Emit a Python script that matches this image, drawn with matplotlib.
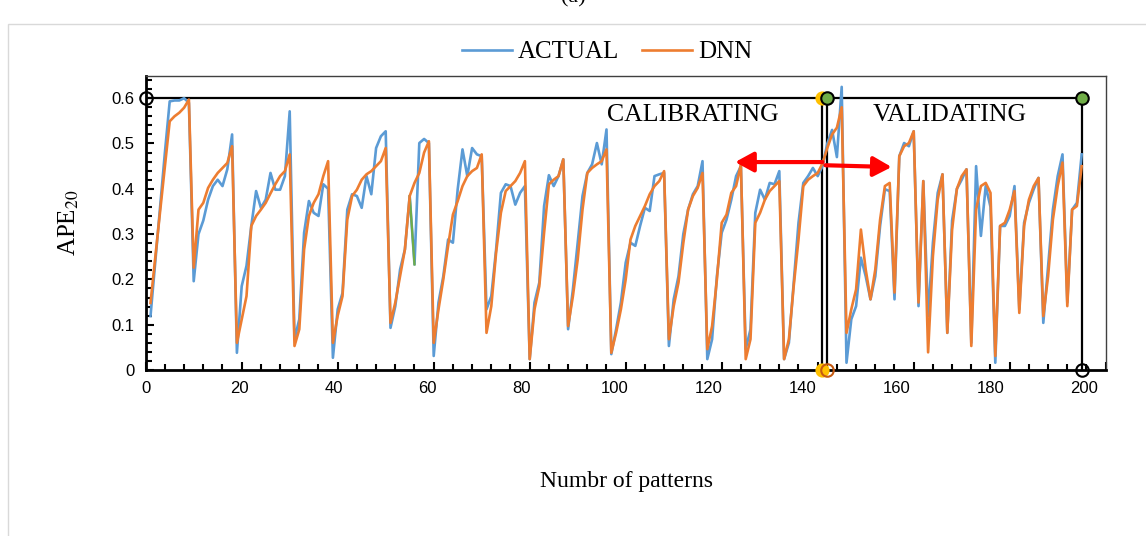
import matplotlib
matplotlib.use("Agg")
import matplotlib.pyplot as plt
from matplotlib.patches import Rectangle
from matplotlib.ticker import MultipleLocator

# ---------------- data ----------------
patterns = list(range(1, 196))

actual = [
    0.119, 0.240, 0.360, 0.480, 0.593, 0.595, 0.595, 0.600, 0.590, 0.196,
    0.300, 0.330, 0.376, 0.406, 0.420, 0.406, 0.443, 0.520, 0.038, 0.185,
    0.230, 0.318, 0.395, 0.358, 0.376, 0.435, 0.398, 0.398, 0.428, 0.571,
    0.068, 0.112, 0.303, 0.373, 0.347, 0.340, 0.410, 0.400, 0.027, 0.134,
    0.170, 0.354, 0.388, 0.384, 0.358, 0.428, 0.388, 0.490, 0.516, 0.527,
    0.093, 0.141, 0.222, 0.266, 0.384, 0.233, 0.501, 0.510, 0.501, 0.031,
    0.149, 0.207, 0.288, 0.281, 0.399, 0.487, 0.428, 0.490, 0.476, 0.472,
    0.134, 0.163, 0.266, 0.391, 0.410, 0.406, 0.365, 0.391, 0.406, 0.024,
    0.149, 0.193, 0.362, 0.430, 0.406, 0.428, 0.465, 0.090, 0.178, 0.281,
    0.384, 0.435, 0.454, 0.501, 0.454, 0.531, 0.035, 0.090, 0.149, 0.237,
    0.281, 0.274, 0.318, 0.358, 0.351, 0.428, 0.432, 0.435, 0.053, 0.156,
    0.207, 0.300, 0.354, 0.388, 0.406, 0.461, 0.024, 0.068, 0.207, 0.303,
    0.332, 0.376, 0.428, 0.450, 0.046, 0.090, 0.347, 0.398, 0.376, 0.413,
    0.410, 0.439, 0.024, 0.060, 0.193, 0.325, 0.413, 0.428, 0.446, 0.428,
    0.450, 0.500, 0.530, 0.470, 0.625, 0.016, 0.112, 0.141, 0.248, 0.207,
    0.156, 0.207, 0.318, 0.399, 0.395, 0.156, 0.472, 0.501, 0.494, 0.527,
    0.141, 0.417, 0.119, 0.281, 0.391, 0.432, 0.082, 0.330, 0.400, 0.420,
    0.443, 0.060, 0.450, 0.296, 0.406, 0.360, 0.016, 0.318, 0.318, 0.340,
    0.406, 0.134, 0.325, 0.369, 0.399, 0.424, 0.104, 0.229, 0.354, 0.428,
    0.476, 0.149, 0.354, 0.369, 0.476,
]

dnn = [
    0.148, 0.250, 0.350, 0.450, 0.549, 0.560, 0.568, 0.579, 0.597, 0.226,
    0.354, 0.369, 0.402, 0.420, 0.435, 0.446, 0.457, 0.494, 0.060, 0.112,
    0.163, 0.318, 0.340, 0.354, 0.369, 0.390, 0.410, 0.428, 0.439, 0.476,
    0.053, 0.090, 0.266, 0.340, 0.369, 0.388, 0.428, 0.461, 0.060, 0.120,
    0.163, 0.332, 0.384, 0.398, 0.420, 0.432, 0.439, 0.450, 0.461, 0.490,
    0.104, 0.149, 0.207, 0.266, 0.384, 0.413, 0.435, 0.480, 0.505, 0.060,
    0.134, 0.200, 0.274, 0.343, 0.373, 0.406, 0.428, 0.439, 0.446, 0.476,
    0.082, 0.141, 0.259, 0.347, 0.395, 0.406, 0.417, 0.435, 0.461, 0.024,
    0.134, 0.185, 0.303, 0.410, 0.420, 0.428, 0.465, 0.097, 0.163, 0.244,
    0.354, 0.435, 0.446, 0.454, 0.461, 0.487, 0.038, 0.082, 0.134, 0.200,
    0.288, 0.318, 0.340, 0.362, 0.388, 0.406, 0.417, 0.439, 0.068, 0.141,
    0.193, 0.280, 0.354, 0.384, 0.402, 0.435, 0.046, 0.097, 0.200, 0.325,
    0.343, 0.391, 0.406, 0.454, 0.024, 0.068, 0.325, 0.347, 0.376, 0.395,
    0.406, 0.417, 0.024, 0.068, 0.185, 0.288, 0.406, 0.420, 0.428, 0.435,
    0.456, 0.490, 0.520, 0.535, 0.580, 0.082, 0.134, 0.178, 0.310, 0.222,
    0.156, 0.222, 0.332, 0.406, 0.413, 0.171, 0.472, 0.494, 0.501, 0.527,
    0.149, 0.417, 0.039, 0.251, 0.376, 0.432, 0.082, 0.310, 0.400, 0.428,
    0.443, 0.053, 0.354, 0.406, 0.413, 0.391, 0.031, 0.318, 0.325, 0.354,
    0.395, 0.126, 0.318, 0.376, 0.406, 0.424, 0.119, 0.207, 0.332, 0.406,
    0.458, 0.141, 0.354, 0.362, 0.450,
]

# short green segment visible between patterns 55 and 56
green_x = [55, 56]
green_y = [0.384, 0.233]

# calibration / validation boxes
calib_x = [0, 141, 141]
calib_y = [0.6, 0.6, 0.0]
valid_x = [142, 142, 195, 195]
valid_y = [0.0, 0.6, 0.6, 0.0]

x_tick_labels_vals = list(range(0, 201, 20))
y_ticks = [0, 0.1, 0.2, 0.3, 0.4, 0.5, 0.6]
y_tick_labels = ["0", "0.1", "0.2", "0.3", "0.4", "0.5", "0.6"]

# ---------------- figure ----------------
plt.rcParams["mathtext.fontset"] = "stix"
SERIF = ["Liberation Serif", "DejaVu Serif"]
SANS = ["Liberation Sans", "DejaVu Sans"]

fig = plt.figure(figsize=(11.46, 5.36), dpi=100)
W, H = 1146, 536

# outer light border
fig.patches.append(Rectangle((8 / W, -0.05), 1.2, 1 - 24 / H + 0.05,
                             transform=fig.transFigure, fill=False,
                             edgecolor="#D9D9D9", linewidth=1.0))
fig.text(573 / W, 1 - 2 / H, "(a)", ha="center", va="baseline",
         fontsize=16, family=SERIF)

left, right, bottom, top = 145.7, 1105.7, 370, 76
ax = fig.add_axes([left / W, (H - bottom) / H, (right - left) / W, (bottom - top) / H])

ax.set_xlim(0, 200)
ax.set_ylim(0, 0.649)

# boxes
ax.plot(calib_x, calib_y, color="black", lw=1.6, zorder=2, solid_capstyle="butt")
ax.plot(valid_x, valid_y, color="black", lw=1.6, zorder=2, solid_capstyle="butt")

# series
ax.plot(patterns, actual, color="#5B9BD5", lw=1.9, zorder=3, label="ACTUAL",
        solid_joinstyle="round")
ax.plot(green_x, green_y, color="#70AD47", lw=1.6, zorder=3.5)
ax.plot(patterns, dnn, color="#ED7D31", lw=1.9, zorder=4, label="DNN",
        solid_joinstyle="round")

# corner markers
ms = 9
ax.plot([0], [0.6], "o", ms=ms, mfc="none", mec="black", mew=1.5, zorder=6, clip_on=False)
ax.plot([141], [0.6], "o", ms=ms, mfc="#FFC000", mec="#FFC000", mew=1.2, zorder=5, clip_on=False)
ax.plot([141], [0.0], "o", ms=ms, mfc="#FFC000", mec="#FFC000", mew=1.2, zorder=5, clip_on=False)
ax.plot([142], [0.0], "o", ms=ms, mfc="none", mec="#C55A11", mew=1.5, zorder=6, clip_on=False)
ax.plot([142], [0.6], "o", ms=ms, mfc="#70AD47", mec="black", mew=1.5, zorder=6, clip_on=False)
ax.plot([195], [0.6], "o", ms=ms, mfc="#70AD47", mec="black", mew=1.5, zorder=6, clip_on=False)
ax.plot([195], [0.0], "o", ms=ms, mfc="none", mec="black", mew=1.5, zorder=6, clip_on=False)

# arrows
astyle = "-|>,head_length=0.55,head_width=0.3"
ax.annotate("", xy=(122.8, 0.459), xytext=(141, 0.459),
            arrowprops=dict(arrowstyle=astyle, color="#FF0000", lw=3,
                            mutation_scale=20, shrinkA=0, shrinkB=0), zorder=7)
ax.annotate("", xy=(155.4, 0.448), xytext=(141.6, 0.452),
            arrowprops=dict(arrowstyle=astyle, color="#FF0000", lw=3,
                            mutation_scale=20, shrinkA=0, shrinkB=0), zorder=7)

# region labels
ax.text(113.9, 0.549, "CALIBRATING", ha="center", va="baseline",
        fontsize=18.5, family=SERIF, zorder=8)
ax.text(167.5, 0.549, "VALIDATING", ha="center", va="baseline",
        fontsize=18.5, family=SERIF, zorder=8)

# primary axis: tick marks only (in pattern units)
ax.xaxis.set_major_locator(MultipleLocator(20))
ax.xaxis.set_minor_locator(MultipleLocator(4))
ax.set_yticks(y_ticks)
ax.set_yticklabels(y_tick_labels)
ax.yaxis.set_minor_locator(MultipleLocator(0.02))
ax.tick_params(which="both", direction="in", color="black", width=1.5)
ax.tick_params(which="major", length=6, labelsize=12, pad=8)
ax.tick_params(which="minor", length=4.5)
ax.tick_params(axis="x", which="both", labelbottom=False)
for lab in ax.get_yticklabels():
    lab.set_family(SANS)

for s in ("left", "bottom"):
    ax.spines[s].set_linewidth(2.0)
    ax.spines[s].set_color("black")
for s in ("top", "right"):
    ax.spines[s].set_linewidth(1.0)
    ax.spines[s].set_color("#404040")

# secondary horizontal axis carrying the 0-200 labels (Excel secondary scale)
axl = ax.twiny()
axl.set_xlim(0, 204.6)
axl.xaxis.set_ticks_position("bottom")
axl.set_xticks(x_tick_labels_vals)
axl.tick_params(axis="x", length=0, labelsize=12, pad=8, labelbottom=True, labeltop=False)
for lab in axl.get_xticklabels():
    lab.set_family(SANS)
for s in axl.spines.values():
    s.set_visible(False)

ax.set_ylabel(r"APE$_{20}$", fontsize=18, family=SERIF, labelpad=22)
fig.text(627 / W, 1 - 482 / H, "Numbr of patterns", ha="center", va="center",
         fontsize=17, family=SERIF)

fig.legend(handles=ax.get_lines()[2:5:2], loc="center",
           bbox_to_anchor=(607 / W, 1 - 52 / H), ncol=2,
           frameon=False, prop={"family": SERIF, "size": 18},
           handlelength=2.0, handletextpad=0.25, columnspacing=0.9)

fig.savefig("out.png", dpi=100)
